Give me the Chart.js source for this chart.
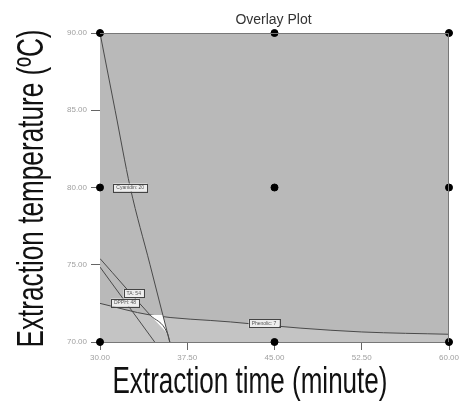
<!DOCTYPE html>
<html>
<head>
<meta charset="utf-8">
<script src="https://cdn.jsdelivr.net/npm/chart.js@4.4.1/dist/chart.umd.min.js"></script>
<style>
  html, body { margin: 0; padding: 0; background: #fff; }
  #wrap { width: 459px; height: 402px; }
</style>
</head>
<body>
<div id="wrap"><canvas id="overlay-plot"></canvas></div>
<script>
// axis ticks
const xTicks = [30, 37.5, 45, 52.5, 60];
const yTicks = [70, 75, 80, 85, 90];

// design points (time, temperature)
const designTime = [30, 45, 60, 30, 45, 60, 30, 45, 60];
const designTemp = [90, 90, 90, 80, 80, 80, 70, 70, 70];

// contour lines
const steepTime = [30, 31.3, 32.6, 34.3, 35.4, 36.0];
const steepTemp = [90, 85, 80, 75, 71.75, 70];

const lineATime = [30, 34.7];
const lineATemp = [74.85, 70];

const lineBTime = [30, 34.3, 35.8, 36.0];
const lineBTemp = [75.4, 71.75, 70.55, 70];

const curveTime = [30, 34.3, 41.2, 47.2, 52.5, 60];
const curveTemp = [72.5, 71.75, 71.3, 70.9, 70.65, 70.5];

// sweet spot (white triangle)
const spotTime = [34.3, 35.4, 35.8, 34.3];
const spotTemp = [71.75, 71.75, 70.55, 71.75];

// contour flags
const flagText = ['Cyanidin: 20', 'TA: 54', 'DPPH: 48', 'Phenolic: 7'];
const flagTime = [32.6, 32.9, 32.15, 44.1];
const flagTemp = [80, 73.15, 72.55, 71.2];

const plotTitle = 'Overlay Plot';
const xTitleText = 'Extraction time (minute)';
const yTitleText = 'Extraction temperature (ºC)';

const toPoints = (xs, ys) => xs.map((x, i) => ({ x: x, y: ys[i] }));

const lineStyle = {
  showLine: true,
  borderColor: '#4a4a4a',
  borderWidth: 1,
  pointRadius: 0,
  fill: false,
  cubicInterpolationMode: 'monotone',
  order: 2,
};

const plotBackground = {
  id: 'plotBackground',
  beforeDatasetsDraw(chart) {
    const { ctx, chartArea: a } = chart;
    ctx.save();
    ctx.fillStyle = '#b9b9b9';
    ctx.fillRect(a.left, a.top, a.right - a.left, a.bottom - a.top);
    ctx.restore();
  },
  afterDatasetsDraw(chart) {
    const { ctx, chartArea: a } = chart;
    ctx.save();
    ctx.strokeStyle = '#777';
    ctx.lineWidth = 1;
    ctx.beginPath();
    ctx.moveTo(a.left, a.top + 0.5);
    ctx.lineTo(a.right - 0.5, a.top + 0.5);
    ctx.lineTo(a.right - 0.5, a.bottom);
    ctx.stroke();
    ctx.restore();
  },
};

const flags = {
  id: 'flags',
  afterDatasetsDraw(chart) {
    const { ctx } = chart;
    const xs = chart.scales.x;
    const ys = chart.scales.y;
    ctx.save();
    ctx.font = '5px "Liberation Sans", Arial, sans-serif';
    ctx.textAlign = 'center';
    ctx.textBaseline = 'middle';
    flagText.forEach((t, i) => {
      const px = xs.getPixelForValue(flagTime[i]);
      const py = ys.getPixelForValue(flagTemp[i]);
      const w = ctx.measureText(t).width + 6;
      const h = 8;
      ctx.fillStyle = '#eeeeee';
      ctx.fillRect(px - w / 2, py - h / 2, w, h);
      ctx.strokeStyle = '#444';
      ctx.lineWidth = 1;
      ctx.strokeRect(Math.round(px - w / 2) + 0.5, Math.round(py - h / 2) + 0.5, Math.round(w), h);
      ctx.fillStyle = '#555';
      ctx.fillText(t, px, py + 0.5);
    });
    ctx.restore();
  },
};

// narrow axis titles: squeeze a regular face to the width seen in the picture
function narrowText(ctx, text, x, y, length, angle) {
  ctx.save();
  ctx.font = '37px "Liberation Sans", Arial, sans-serif';
  ctx.fillStyle = '#111';
  ctx.textAlign = 'center';
  ctx.textBaseline = 'alphabetic';
  const w = ctx.measureText(text).width;
  ctx.translate(x, y);
  ctx.rotate(angle);
  ctx.scale(length / w, 1);
  ctx.fillText(text, 0, 0);
  ctx.restore();
}

const titles = {
  id: 'titles',
  afterDraw(chart) {
    const { ctx, chartArea: a } = chart;
    ctx.save();
    ctx.font = '14px "Liberation Sans", Arial, sans-serif';
    ctx.fillStyle = '#333';
    ctx.textAlign = 'center';
    ctx.textBaseline = 'alphabetic';
    ctx.fillText(plotTitle, (a.left + a.right) / 2 - 1, 24);
    ctx.restore();
    narrowText(ctx, xTitleText, a.left + 150, 393, 275, 0);
    narrowText(ctx, yTitleText, 43, (a.top + a.bottom) / 2 + 1, 318, -Math.PI / 2);
  },
};

const ticksFrom = (list) => (scale) => {
  scale.ticks = list.map((v) => ({ value: v }));
};

new Chart(document.getElementById('overlay-plot'), {
  type: 'scatter',
  data: {
    datasets: [
      {
        data: toPoints(designTime, designTemp),
        pointRadius: 3.5,
        pointBackgroundColor: '#000',
        pointBorderColor: '#000',
        clip: false,
        order: 0,
      },
      Object.assign({ data: toPoints(steepTime, steepTemp) }, lineStyle),
      Object.assign({ data: toPoints(lineATime, lineATemp) }, lineStyle),
      Object.assign({ data: toPoints(lineBTime, lineBTemp) }, lineStyle),
      Object.assign({}, lineStyle, {
        data: toPoints(curveTime, curveTemp),
        fill: 'start',
        backgroundColor: '#c4c4c4',
        order: 4,
      }),
      {
        data: toPoints(spotTime, spotTemp),
        showLine: true,
        borderWidth: 0,
        pointRadius: 0,
        fill: 'shape',
        backgroundColor: '#ffffff',
        order: 3,
      },
    ],
  },
  options: {
    responsive: true,
    maintainAspectRatio: false,
    animation: false,
    layout: { padding: { left: 0, right: 10, top: 33, bottom: 0 } },
    plugins: {
      legend: { display: false },
      tooltip: { enabled: false },
      title: { display: false },
    },
    scales: {
      x: {
        type: 'linear',
        min: 30,
        max: 60,
        afterBuildTicks: ticksFrom(xTicks),
        afterFit: (s) => { s.height = 60; s.paddingRight = 0; },
        ticks: {
          color: '#a0a0a0',
          font: { family: '"Liberation Sans", Arial, sans-serif', size: 8 },
          padding: 3,
          maxRotation: 0,
          callback: (v) => Number(v).toFixed(2),
        },
        grid: { drawOnChartArea: false, tickLength: 8, color: '#666' },
        border: { color: '#777' },
      },
      y: {
        type: 'linear',
        min: 70,
        max: 90,
        afterBuildTicks: ticksFrom(yTicks),
        afterFit: (s) => { s.width = 100; },
        ticks: {
          color: '#a0a0a0',
          font: { family: '"Liberation Sans", Arial, sans-serif', size: 8 },
          padding: 4,
          callback: (v) => Number(v).toFixed(2),
        },
        grid: { drawOnChartArea: false, tickLength: 9, color: '#666' },
        border: { color: '#777' },
      },
    },
  },
  plugins: [plotBackground, flags, titles],
});
</script>
</body>
</html>
